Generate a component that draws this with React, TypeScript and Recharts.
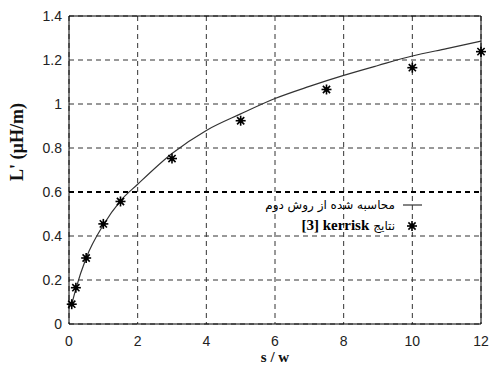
import {
  CartesianGrid,
  ComposedChart,
  Label,
  Line,
  ReferenceLine,
  Scatter,
  XAxis,
  YAxis,
} from "recharts";

// curve: "محاسبه شده از روش دوم"
const curveS = [0.08, 0.2, 0.5, 1, 1.5, 2, 3, 4, 5, 6, 7, 8, 9, 10, 11, 12];
const curveL = [
  0.09, 0.16, 0.3, 0.45, 0.56, 0.635, 0.775, 0.88, 0.955, 1.025, 1.08, 1.13,
  1.175, 1.218, 1.252, 1.286,
];

// kerrisk [3] measured points
const kerriskS = [0.08, 0.2, 0.5, 1, 1.5, 3, 5, 7.5, 10, 12];
const kerriskL = [0.09, 0.165, 0.3, 0.455, 0.557, 0.752, 0.924, 1.066, 1.165, 1.238];

const xTicks = [0, 2, 4, 6, 8, 10, 12];
const yTicks = [0, 0.2, 0.4, 0.6, 0.8, 1, 1.2, 1.4];

const curveData = curveS.map((s, i) => ({ s, L: curveL[i] }));
const kerriskData = kerriskS.map((s, i) => ({ s, L: kerriskL[i] }));

const tickStyle = {
  fontFamily: "'Liberation Sans', Arial, sans-serif",
  fontSize: 14,
  fill: "#222",
};

function Asterisk(props: { cx?: number; cy?: number }) {
  const { cx = 0, cy = 0 } = props;
  const r = 5;
  const d = 3.6;
  return (
    <g stroke="#000" strokeWidth={1.6}>
      <line x1={cx} y1={cy - r} x2={cx} y2={cy + r} />
      <line x1={cx - r} y1={cy} x2={cx + r} y2={cy} />
      <line x1={cx - d} y1={cy - d} x2={cx + d} y2={cy + d} />
      <line x1={cx - d} y1={cy + d} x2={cx + d} y2={cy - d} />
      <circle cx={cx} cy={cy} r={1.6} fill="#000" />
    </g>
  );
}

// legend drawn over the plot, symbols on the right (rtl style)
function LegendBox() {
  const row = {
    display: "flex",
    justifyContent: "flex-end",
    alignItems: "center",
    height: 21,
    direction: "ltr",
  } as const;
  const fa = { fontFamily: "'DejaVu Sans', sans-serif", fontSize: 12 };
  return (
    <div style={{ position: "absolute", left: 225, top: 194, width: 200 }}>
      <div style={row}>
        <span style={{ ...fa, direction: "rtl" }}>محاسبه شده از روش دوم</span>
        <svg width={30} height={10}>
          <line x1={8} y1={5} x2={27} y2={5} stroke="#333" strokeWidth={1.2} />
        </svg>
      </div>
      <div style={row}>
        <span
          style={{
            fontFamily: "'Liberation Serif', serif",
            fontWeight: "bold",
            fontSize: 15,
            marginRight: 4,
          }}
        >
          [3] kerrisk
        </span>
        <span style={{ ...fa, direction: "rtl" }}>نتایج</span>
        <svg width={30} height={14}>
          <Asterisk cx={17} cy={7} />
        </svg>
      </div>
    </div>
  );
}

export default function App() {
  return (
    <div style={{ position: "absolute", left: 0, top: 0, background: "#fff" }}>
      <ComposedChart
        width={491}
        height={374}
        margin={{ top: 16, right: 10, left: 0, bottom: 0 }}
      >
        <CartesianGrid stroke="#333" strokeDasharray="5 4" />
        <XAxis
          dataKey="s"
          type="number"
          domain={[0, 12]}
          ticks={xTicks}
          height={50}
          tickLine={false}
          tickSize={8}
          tickMargin={4}
          tick={tickStyle}
          axisLine={{ stroke: "#000" }}
        >
          <Label
            value="s / w"
            position="insideBottom"
            offset={12}
            style={{
              fontFamily: "'Liberation Serif', serif",
              fontWeight: "bold",
              fontSize: 15,
              fill: "#111",
            }}
          />
        </XAxis>
        <YAxis
          dataKey="L"
          type="number"
          domain={[0, 1.4]}
          ticks={yTicks}
          width={69}
          tickLine={false}
          tickSize={5}
          tickMargin={2}
          tick={tickStyle}
          axisLine={{ stroke: "#000" }}
        >
          <Label
            content={() => (
              <text
                x={17}
                y={142}
                transform="rotate(-90 17 142)"
                textAnchor="middle"
                dominantBaseline="central"
                style={{
                  fontFamily: "'Liberation Serif', serif",
                  fontWeight: "bold",
                  fontSize: 18,
                  fill: "#111",
                }}
              >
                L' (µH/m)
              </text>
            )}
          />
        </YAxis>
        <ReferenceLine y={0.6} stroke="#000" strokeDasharray="5 4" strokeWidth={2} />
        <ReferenceLine y={1.4} stroke="#000" />
        <ReferenceLine x={12} stroke="#000" />
        <Line
          data={curveData}
          dataKey="L"
          type="monotone"
          stroke="#333"
          strokeWidth={1.2}
          dot={false}
          isAnimationActive={false}
        />
        <Scatter
          data={kerriskData}
          dataKey="L"
          shape={<Asterisk />}
          isAnimationActive={false}
        />
      </ComposedChart>
      <LegendBox />
    </div>
  );
}
